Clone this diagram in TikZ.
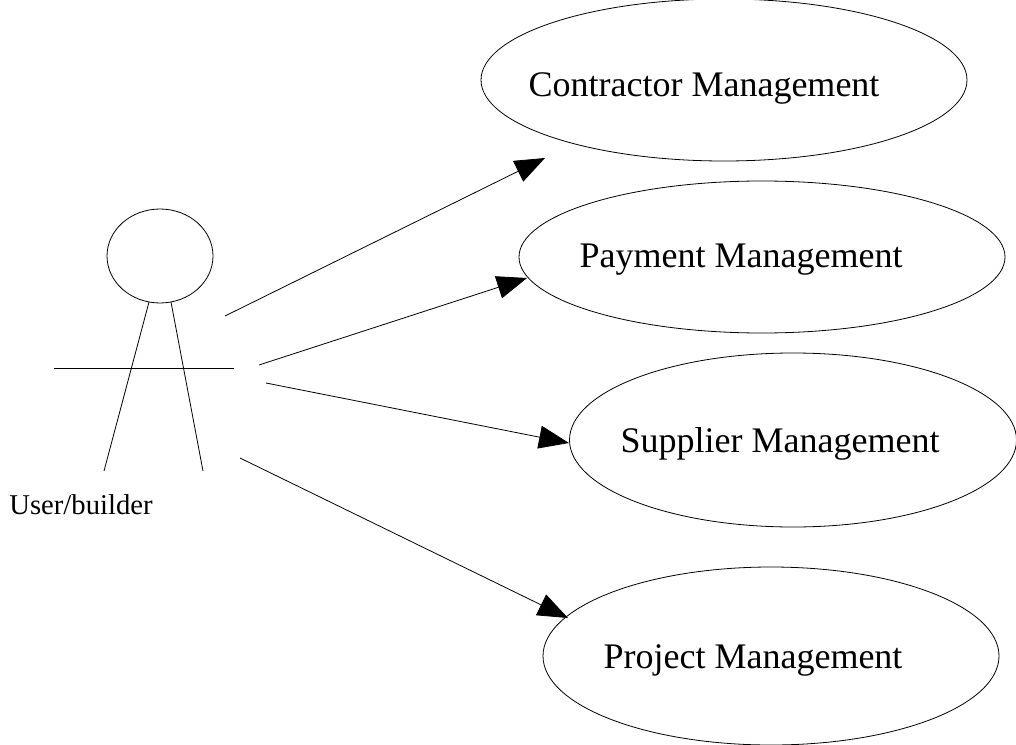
\documentclass[tikz,border=0pt]{standalone}
\usepackage{fontspec}
\setmainfont{Liberation Serif}
\usetikzlibrary{shapes}
\usetikzlibrary{arrows.meta}
\tikzset{
    usecase/.style = {ellipse, line width=0.6pt, draw=black, inner sep=0pt},
    usecasetext/.style = {font=\fontsize{27}{32}\selectfont,text=black},
    actorhead/.style = {ellipse, line width=0.6pt, draw=black, inner sep=0pt},
    limb/.style = {-,line width=0.6pt,black},
    assoc/.style = {-{Triangle[length=30*0.75pt,width=23*0.75pt]},line width=0.6pt,black}
}
\begin{document}
\begin{tikzpicture}[x=0.75pt,y=-0.75pt]
  \useasboundingbox (0,0) rectangle (1016,745);
  \node[usecase, minimum width=486*0.75pt, minimum height=162*0.75pt] (contractor) at (724,80) {};
  \node[usecasetext] (contractorlabel) at (704,88) {Contractor Management};
  \node[usecase, minimum width=486*0.75pt, minimum height=152*0.75pt] (payment) at (762,257) {};
  \node[usecasetext] (paymentlabel) at (741,260) {Payment Management};
  \node[usecase, minimum width=447*0.75pt, minimum height=174*0.75pt] (supplier) at (793,440) {};
  \node[usecasetext] (supplierlabel) at (780,444) {Supplier Management};
  \node[usecase, minimum width=456*0.75pt, minimum height=178*0.75pt] (project) at (771,656) {};
  \node[usecasetext] (projectlabel) at (753,660) {Project Management};
  % actor
  \node[actorhead, minimum width=106*0.75pt, minimum height=94*0.75pt] (head) at (160,256) {};
  \coordinate (arml) at (54,368);
  \coordinate (armr) at (234,368);
  \coordinate (legl) at (104,471);
  \coordinate (legr) at (203,471);
  \coordinate (hipl) at (149,302);
  \coordinate (hipr) at (171,302);
  \draw[limb] (arml) -- (armr);
  \draw[limb] (hipl) -- (legl);
  \draw[limb] (hipr) -- (legr);
  \node[font=\fontsize{21.5}{26}\selectfont] (actorlabel) at (81,505) {User/builder};
  % arrows
  \coordinate (c1) at (225,316);
  \coordinate (c2) at (259,365);
  \coordinate (c3) at (266,383);
  \coordinate (c4) at (240,458);
  \coordinate (e1) at (545,158);
  \coordinate (e2) at (527,278);
  \coordinate (e3) at (569,443);
  \coordinate (e4) at (568,618);
  \draw[assoc] (c1) -- (e1);
  \draw[assoc] (c2) -- (e2);
  \draw[assoc] (c3) -- (e3);
  \draw[assoc] (c4) -- (e4);
\end{tikzpicture}
\end{document}
